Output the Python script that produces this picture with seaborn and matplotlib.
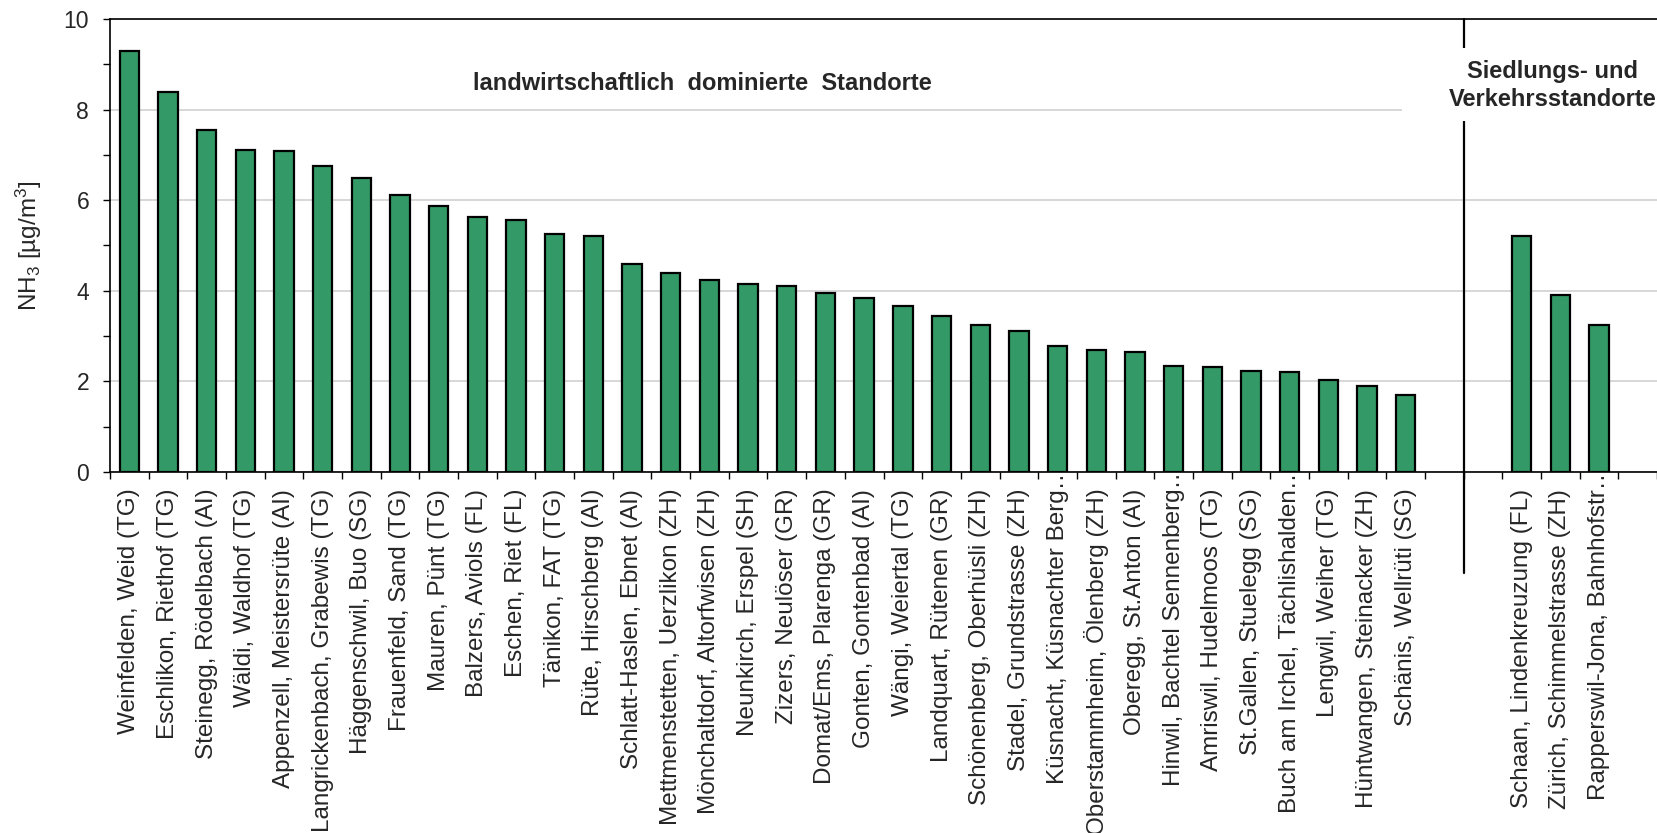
import matplotlib
matplotlib.use("Agg")
import matplotlib.pyplot as plt
import matplotlib.transforms as mtransforms
from matplotlib.patches import Rectangle
import numpy as np
import pandas as pd
import seaborn as sns

sns.set_style("white")
plt.rcParams['font.family'] = ['Liberation Sans', 'DejaVu Sans']
plt.rcParams['mathtext.default'] = 'regular'

# agricultural sites
agri_sites = [
    "Weinfelden, Weid (TG)", "Eschlikon, Riethof (TG)", "Steinegg, Rödelbach (AI)",
    "Wäldi, Waldhof (TG)", "Appenzell, Meistersrüte (AI)", "Langrickenbach, Grabewis (TG)",
    "Häggenschwil, Buo (SG)", "Frauenfeld, Sand (TG)", "Mauren, Pünt (TG)",
    "Balzers, Aviols (FL)", "Eschen, Riet (FL)", "Tänikon, FAT (TG)",
    "Rüte, Hirschberg (AI)", "Schlatt-Haslen, Ebnet (AI)", "Mettmenstetten, Uerzlikon (ZH)",
    "Mönchaltdorf, Altorfwisen (ZH)", "Neunkirch, Erspel (SH)", "Zizers, Neulöser (GR)",
    "Domat/Ems, Plarenga (GR)", "Gonten, Gontenbad (AI)", "Wängi, Weiertal (TG)",
    "Landquart, Rütenen (GR)", "Schönenberg, Oberhüsli (ZH)", "Stadel, Grundstrasse (ZH)",
    "Küsnacht, Küsnachter Berg…", "Oberstammheim, Ölenberg (ZH)", "Oberegg, St.Anton (AI)",
    "Hinwil, Bachtel Sennenberg…", "Amriswil, Hudelmoos (TG)", "St.Gallen, Stuelegg (SG)",
    "Buch am Irchel, Tächlishalden…", "Lengwil, Weiher (TG)", "Hüntwangen, Steinacker (ZH)",
    "Schänis, Wellrüti (SG)",
]
agri_values = [
    9.29, 8.38, 7.56, 7.10, 7.08, 6.75, 6.48, 6.11, 5.87, 5.62, 5.57, 5.26,
    5.21, 4.60, 4.39, 4.24, 4.14, 4.11, 3.96, 3.84, 3.66, 3.45, 3.25, 3.12,
    2.78, 2.70, 2.66, 2.35, 2.32, 2.23, 2.20, 2.04, 1.89, 1.70,
]

# settlement / traffic sites
urban_sites = [
    "Schaan, Lindenkreuzung (FL)", "Zürich, Schimmelstrasse (ZH)", "Rapperswil-Jona, Bahnhofstr…",
]
urban_values = [5.21, 3.91, 3.25]

df = pd.DataFrame({
    "site": agri_sites + urban_sites,
    "nh3": agri_values + urban_values,
})
# empty slots between and after the two groups
order = agri_sites + [" ", "  "] + urban_sites + ["   "]

fig = plt.figure(figsize=(16.57, 8.33), dpi=100)
ax = fig.add_axes([110 / 1657, 1 - 472 / 833, 1547 / 1657, 453 / 833])

sns.barplot(data=df, x="site", y="nh3", order=order, color="#339966",
            saturation=1, width=0.5, edgecolor="black", linewidth=1.6,
            errorbar=None, ax=ax)

ax.set_xlim(-0.5, -0.5 + 1547 / 38.9)
ax.set_ylim(0, 10)

ax.set_xticks(range(len(order)))
ax.set_xticklabels([s.strip() for s in order], rotation=90, fontsize=17.5)
ax.set_xticks(np.arange(-0.5, len(order), 1), minor=True)
ax.tick_params(axis="x", which="major", length=0, pad=12)
ax.tick_params(axis="x", which="minor", length=5, width=1, direction="out",
               color="black", bottom=True)

ax.set_yticks([0, 2, 4, 6, 8, 10])
ax.set_yticks([1, 3, 5, 7, 9], minor=True)
ax.tick_params(axis="y", which="both", length=5, width=1, direction="out",
               color="black", left=True, labelsize=16.5, pad=10)

# truncated labels: the dots sit up against the axis like in Excel
shift = mtransforms.ScaledTranslation(0, 0.24, fig.dpi_scale_trans)
for lbl in ax.get_xticklabels():
    if lbl.get_text().endswith("…"):
        lbl.set_transform(lbl.get_transform() + shift)

ax.set_xlabel("")
ax.set_ylabel("NH$_3$ [µg/m$^3$]", fontsize=17.5, labelpad=14)

ax.yaxis.grid(True, color="#d4d4d4", linewidth=1.3)
ax.set_axisbelow(True)

for side in ["left", "bottom", "top"]:
    ax.spines[side].set_color("black")
    ax.spines[side].set_linewidth(1.2)
ax.spines["right"].set_visible(False)

# separator between the groups
ax.plot([34.5, 34.5], [-2.24, 10], color="black", linewidth=1.6,
        clip_on=False, zorder=3)
ax.add_patch(Rectangle((32.9, 7.75), 8, 1.62, facecolor="white",
                       edgecolor="none", zorder=4, clip_on=False))

ax.text(14.82, 8.58, "landwirtschaftlich  dominierte  Standorte",
        ha="center", va="center", fontsize=17, fontweight="bold", zorder=5)
ax.text(36.8, 8.53, "Siedlungs- und\nVerkehrsstandorte", ha="center",
        va="center", fontsize=17, fontweight="bold", linespacing=1.25, zorder=5)

fig.savefig("out.png", dpi=100)
